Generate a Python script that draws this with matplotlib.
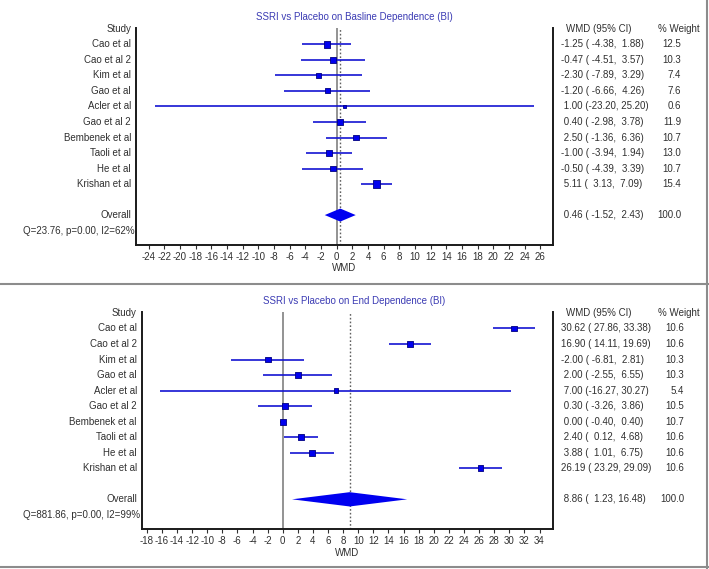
import math
import matplotlib
matplotlib.use("Agg")
import matplotlib.pyplot as plt
from matplotlib.transforms import blended_transform_factory
from matplotlib.lines import Line2D

plt.rcParams['font.family'] = ['Liberation Sans', 'DejaVu Sans']
plt.rcParams['axes.unicode_minus'] = False

# Data
studies = ["Cao et al", "Cao et al 2", "Kim et al", "Gao et al", "Acler et al",
           "Gao et al 2", "Bembenek et al", "Taoli et al", "He et al", "Krishan et al"]

base_wmd = [-1.25, -0.47, -2.30, -1.20, 1.00, 0.40, 2.50, -1.00, -0.50, 5.11]
base_lo = [-4.38, -4.51, -7.89, -6.66, -23.20, -2.98, -1.36, -3.94, -4.39, 3.13]
base_hi = [1.88, 3.57, 3.29, 4.26, 25.20, 3.78, 6.36, 1.94, 3.39, 7.09]
base_w = [12.5, 10.3, 7.4, 7.6, 0.6, 11.9, 10.7, 13.0, 10.7, 15.4]
base_overall = [0.46, -1.52, 2.43]
base_het = "Q=23.76, p=0.00, I2=62%"
base_title = "SSRI vs Placebo on Basline Dependence (BI)"

end_wmd = [30.62, 16.90, -2.00, 2.00, 7.00, 0.30, 0.00, 2.40, 3.88, 26.19]
end_lo = [27.86, 14.11, -6.81, -2.55, -16.27, -3.26, -0.40, 0.12, 1.01, 23.29]
end_hi = [33.38, 19.69, 2.81, 6.55, 30.27, 3.86, 0.40, 4.68, 6.75, 29.09]
end_w = [10.6, 10.6, 10.3, 10.3, 5.4, 10.5, 10.7, 10.6, 10.6, 10.6]
end_overall = [8.86, 1.23, 16.48]
end_het = "Q=881.86, p=0.00, I2=99%"
end_title = "SSRI vs Placebo on End Dependence (BI)"

W, H = 709, 569
FS = 7
TXT = '#303030'
BLUE = '#1414d2'


def ci_text(est, lo, hi):
    return f"{est:5.2f} ({lo:6.2f}, {hi:5.2f})"


def draw_panel(fig, rect, title, wmd, lo, hi, w, overall, het, wend, dh):
    ax = fig.add_axes(rect)
    n = len(studies)
    rows = list(range(1, n + 1))
    row_all = n + 2
    row_het = n + 3

    pad = 2.4
    x0, x1 = min(lo) - pad, max(hi) + pad
    ax.set_xlim(x0, x1)
    ax.set_ylim(row_het + 0.93, -0.06)

    # reference lines
    ax.axvline(0, color='#8a8a8a', lw=1.3, zorder=1)
    ax.axvline(overall[0], color='#606060', lw=1.0, ls=(0, (1.2, 1.5)), zorder=1)

    # studies
    ax.hlines(rows, lo, hi, color=BLUE, lw=1.2, zorder=2)
    sizes = [max(1.3 * wi ** 0.5, 1.6) ** 2 for wi in w]
    ax.scatter(wmd, rows, s=sizes, marker='s', color='#0000ee',
               edgecolors='#000080', linewidths=0.6, zorder=3)

    # overall diamond
    est, olo, ohi = overall
    ax.fill([olo, est, ohi, est], [row_all, row_all - dh, row_all, row_all + dh],
            color='#0000f0', lw=0, zorder=3)

    # axes styling
    ax.spines['top'].set_visible(False)
    for s in ['left', 'right', 'bottom']:
        ax.spines[s].set_linewidth(1.4)
        ax.spines[s].set_color('#1a1a1a')
    ax.set_yticks([])
    start = math.ceil(x0)
    if start % 2:
        start += 1
    ax.set_xticks(range(start, int(x1) + 1, 2))
    ax.tick_params(axis='x', direction='out', length=3, width=0.8,
                   labelsize=FS, pad=2, colors=TXT)
    ax.set_xlabel("WMD", fontsize=FS, color=TXT, labelpad=1)

    # left labels
    tl = blended_transform_factory(ax.transAxes, ax.transData)
    ax.text(-0.012, 0, "Study", transform=tl, ha='right', va='center', fontsize=FS, color=TXT)
    for r, name in zip(rows, studies):
        ax.text(-0.012, r, name, transform=tl, ha='right', va='center', fontsize=FS, color=TXT)
    ax.text(-0.012, row_all, "Overall", transform=tl, ha='right', va='center', fontsize=FS, color=TXT)
    ax.text(-0.004, row_het, het, transform=tl, ha='right', va='center', fontsize=FS, color=TXT)

    # right table
    tr = blended_transform_factory(fig.transFigure, ax.transData)
    ax.text(566 / W, 0, "WMD (95% CI)", transform=tr, ha='left', va='center', fontsize=FS, color=TXT)
    ax.text(658 / W, 0, "% Weight", transform=tr, ha='left', va='center', fontsize=FS, color=TXT)
    for r, e, l, u, wi in zip(rows, wmd, lo, hi, w):
        ax.text(561 / W, r, ci_text(e, l, u), transform=tr, ha='left', va='center',
                fontsize=FS, color=TXT)
        ax.text(wend / W, r, f"{wi:.1f}", transform=tr, ha='right', va='center',
                fontsize=FS, color=TXT)
    ax.text(561 / W, row_all, ci_text(*overall), transform=tr, ha='left', va='center',
            fontsize=FS, color=TXT)
    ax.text(wend / W, row_all, "100.0", transform=tr, ha='right', va='center',
            fontsize=FS, color=TXT)

    # title
    ax.text(354 / W, -0.75, title, transform=tr, ha='center', va='center',
            fontsize=FS, color='#3c3cb4')
    return ax


def main():
    fig = plt.figure(figsize=(W / 100, H / 100), dpi=100)
    fig.patch.set_facecolor('white')

    draw_panel(fig, [136 / W, 1 - 245 / H, 417 / W, 217 / H], base_title,
               base_wmd, base_lo, base_hi, base_w, base_overall, base_het, 681, 0.42)
    draw_panel(fig, [141.7 / W, 1 - 529.3 / H, 411.3 / W, 217.3 / H], end_title,
               end_wmd, end_lo, end_hi, end_w, end_overall, end_het, 684, 0.46)

    # panel frames
    fig.add_artist(Line2D([0, 1], [1 - 284 / H] * 2, color='#8c8c8c', lw=1.5))
    fig.add_artist(Line2D([0, 1], [1 - 567 / H] * 2, color='#8c8c8c', lw=1.5))
    fig.add_artist(Line2D([707 / W] * 2, [0, 1], color='#8c8c8c', lw=1.5))

    plt.savefig('out.png', dpi=100)
    plt.close()


if __name__ == "__main__":
    main()
